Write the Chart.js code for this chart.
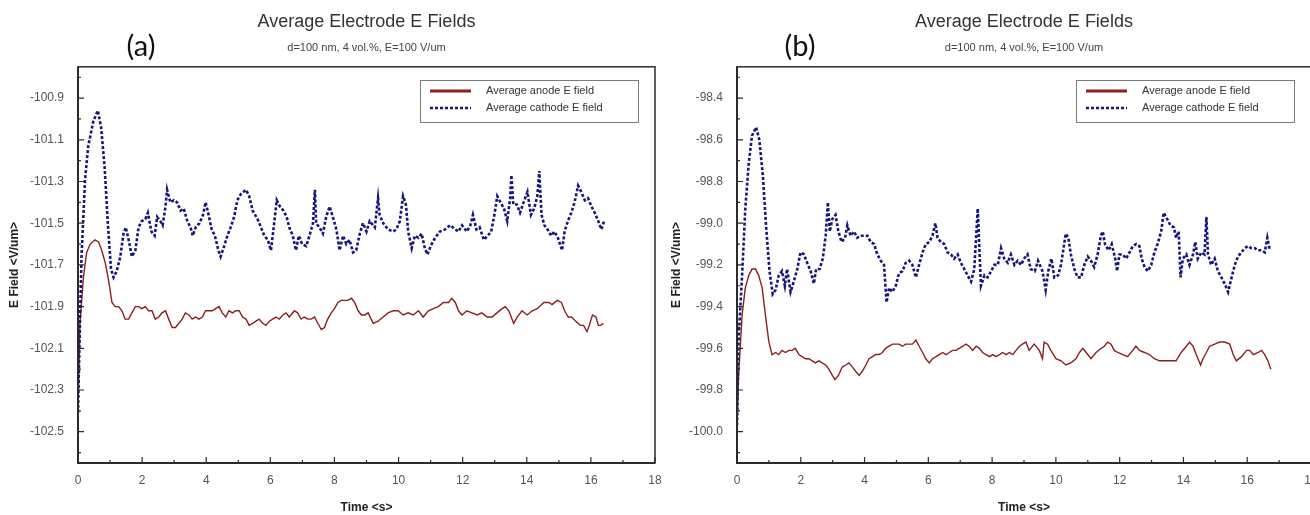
<!DOCTYPE html>
<html>
<head>
<meta charset="utf-8">
<title>Average Electrode E Fields</title>
<script src="https://cdn.jsdelivr.net/npm/chart.js@4/dist/chart.umd.min.js"></script>
<style>
body{margin:0;background:#fff;width:1310px;height:515px;overflow:hidden;position:relative}
canvas{position:absolute;top:0}
#chartA{left:0}
#chartB{left:660px}
.tag{position:absolute;top:27px;width:50px;text-align:center;font-family:Lato,"Open Sans",sans-serif;font-size:29px;color:#111}
</style>
</head>
<body>
<canvas id="chartA" width="672" height="515"></canvas>
<canvas id="chartB" width="655" height="515"></canvas>
<div class="tag" style="left:116px">(a)</div>
<div class="tag" style="left:775px">(b)</div>
<script>
// shared axis ticks
const xMajor = [0, 2, 4, 6, 8, 10, 12, 14, 16, 18];
const xMinor = [1, 3, 5, 7, 9, 11, 13, 15, 17];

// panel (a) axis ticks
const yMajorA = [-102.5, -102.3, -102.1, -101.9, -101.7, -101.5, -101.3, -101.1, -100.9];
const yMinorA = [-102.6, -102.4, -102.2, -102.0, -101.8, -101.6, -101.4, -101.2, -101.0, -100.8];

// panel (b) axis ticks
const yMajorB = [-100.0, -99.8, -99.6, -99.4, -99.2, -99.0, -98.8, -98.6, -98.4];
const yMinorB = [-100.1, -99.9, -99.7, -99.5, -99.3, -99.1, -98.9, -98.7, -98.5, -98.3];

// panel (a) anode
const tAnodeA = [0, 0.06, 0.17, 0.27, 0.38, 0.53, 0.64, 0.74, 0.85, 0.95, 1.06, 1.16, 1.27, 1.37, 1.47, 1.58, 1.68, 1.79, 1.89, 1.99, 2.10, 2.20, 2.31, 2.41, 2.52, 2.62, 2.73, 2.83, 2.94, 3.04, 3.15, 3.25, 3.35, 3.46, 3.56, 3.67, 3.77, 3.88, 3.98, 4.09, 4.19, 4.29, 4.40, 4.50, 4.61, 4.71, 4.82, 4.92, 5.03, 5.13, 5.24, 5.34, 5.45, 5.55, 5.65, 5.76, 5.86, 5.97, 6.07, 6.18, 6.28, 6.39, 6.49, 6.59, 6.75, 6.85, 6.96, 7.06, 7.17, 7.27, 7.38, 7.48, 7.59, 7.69, 7.79, 7.90, 8.00, 8.11, 8.21, 8.32, 8.42, 8.53, 8.63, 8.74, 8.84, 8.95, 9.05, 9.21, 9.36, 9.52, 9.67, 9.83, 9.99, 10.14, 10.30, 10.46, 10.62, 10.77, 10.93, 11.09, 11.24, 11.40, 11.56, 11.66, 11.77, 11.87, 11.98, 12.13, 12.29, 12.45, 12.60, 12.76, 12.92, 13.07, 13.23, 13.33, 13.44, 13.59, 13.70, 13.85, 14.01, 14.17, 14.33, 14.53, 14.69, 14.79, 14.95, 15.08, 15.18, 15.29, 15.39, 15.53, 15.67, 15.77, 15.88, 15.95, 16.05, 16.16, 16.23, 16.31, 16.39];
const eAnodeA = [-102.41, -101.98, -101.76, -101.64, -101.60, -101.58, -101.59, -101.63, -101.69, -101.77, -101.88, -101.90, -101.90, -101.92, -101.96, -101.96, -101.93, -101.90, -101.90, -101.91, -101.90, -101.92, -101.92, -101.96, -101.95, -101.93, -101.92, -101.96, -102.00, -102.00, -101.98, -101.96, -101.93, -101.94, -101.96, -101.95, -101.96, -101.95, -101.92, -101.92, -101.92, -101.91, -101.90, -101.93, -101.95, -101.92, -101.93, -101.92, -101.92, -101.95, -101.96, -101.99, -101.98, -101.97, -101.96, -101.98, -101.99, -101.97, -101.96, -101.95, -101.96, -101.94, -101.93, -101.95, -101.92, -101.93, -101.96, -101.95, -101.96, -101.96, -101.95, -101.98, -102.01, -102.00, -101.96, -101.93, -101.91, -101.88, -101.87, -101.87, -101.87, -101.86, -101.88, -101.92, -101.94, -101.94, -101.93, -101.98, -101.97, -101.95, -101.93, -101.92, -101.92, -101.94, -101.93, -101.94, -101.92, -101.95, -101.92, -101.91, -101.90, -101.88, -101.88, -101.86, -101.88, -101.92, -101.94, -101.92, -101.93, -101.94, -101.93, -101.95, -101.95, -101.93, -101.91, -101.90, -101.92, -101.98, -101.95, -101.92, -101.94, -101.92, -101.91, -101.88, -101.88, -101.89, -101.87, -101.88, -101.92, -101.95, -101.95, -101.97, -101.99, -101.99, -102.02, -101.99, -101.94, -101.95, -101.99, -101.99, -101.98];

// panel (a) cathode
const tCathodeA = [0, 0.05, 0.11, 0.22, 0.32, 0.48, 0.62, 0.72, 0.83, 0.93, 1.03, 1.11, 1.21, 1.32, 1.42, 1.49, 1.58, 1.68, 1.79, 1.89, 1.99, 2.10, 2.18, 2.29, 2.39, 2.47, 2.57, 2.64, 2.73, 2.78, 2.88, 2.99, 3.09, 3.20, 3.30, 3.41, 3.51, 3.58, 3.67, 3.79, 3.90, 3.98, 4.06, 4.17, 4.27, 4.38, 4.45, 4.56, 4.66, 4.76, 4.87, 4.97, 5.08, 5.24, 5.34, 5.45, 5.60, 5.71, 5.81, 5.92, 6.02, 6.12, 6.20, 6.30, 6.41, 6.51, 6.59, 6.70, 6.80, 6.89, 6.99, 7.12, 7.22, 7.33, 7.39, 7.43, 7.53, 7.64, 7.74, 7.85, 7.95, 8.06, 8.16, 8.27, 8.37, 8.47, 8.58, 8.68, 8.79, 8.89, 9.00, 9.10, 9.26, 9.36, 9.41, 9.52, 9.67, 9.83, 9.93, 10.04, 10.14, 10.23, 10.30, 10.41, 10.51, 10.62, 10.72, 10.82, 10.90, 11.00, 11.14, 11.29, 11.45, 11.61, 11.77, 11.87, 11.98, 12.13, 12.24, 12.32, 12.43, 12.53, 12.66, 12.78, 12.89, 12.99, 13.08, 13.18, 13.29, 13.39, 13.48, 13.52, 13.58, 13.69, 13.79, 13.90, 14.02, 14.13, 14.23, 14.33, 14.39, 14.46, 14.55, 14.65, 14.76, 14.86, 14.97, 15.10, 15.18, 15.28, 15.39, 15.49, 15.60, 15.70, 15.81, 15.91, 16.02, 16.12, 16.23, 16.33, 16.41];
const eCathodeA = [-102.41, -102.05, -101.66, -101.29, -101.13, -101.01, -100.96, -101.04, -101.23, -101.50, -101.72, -101.76, -101.73, -101.66, -101.55, -101.52, -101.58, -101.66, -101.63, -101.52, -101.49, -101.48, -101.45, -101.54, -101.56, -101.47, -101.49, -101.51, -101.42, -101.34, -101.40, -101.39, -101.40, -101.44, -101.43, -101.49, -101.52, -101.56, -101.52, -101.50, -101.46, -101.40, -101.45, -101.53, -101.56, -101.63, -101.66, -101.61, -101.56, -101.52, -101.47, -101.39, -101.36, -101.34, -101.37, -101.44, -101.48, -101.52, -101.56, -101.58, -101.63, -101.50, -101.39, -101.42, -101.44, -101.47, -101.52, -101.56, -101.63, -101.56, -101.60, -101.61, -101.56, -101.50, -101.34, -101.50, -101.52, -101.55, -101.47, -101.42, -101.47, -101.53, -101.63, -101.56, -101.60, -101.58, -101.64, -101.63, -101.55, -101.50, -101.54, -101.49, -101.52, -101.38, -101.46, -101.50, -101.53, -101.54, -101.53, -101.49, -101.37, -101.41, -101.54, -101.62, -101.56, -101.57, -101.55, -101.62, -101.65, -101.61, -101.57, -101.54, -101.53, -101.51, -101.53, -101.54, -101.51, -101.54, -101.51, -101.46, -101.53, -101.52, -101.58, -101.56, -101.54, -101.46, -101.37, -101.40, -101.43, -101.49, -101.38, -101.27, -101.41, -101.41, -101.45, -101.40, -101.35, -101.46, -101.43, -101.37, -101.25, -101.46, -101.51, -101.53, -101.56, -101.54, -101.57, -101.63, -101.54, -101.49, -101.45, -101.40, -101.32, -101.35, -101.39, -101.38, -101.42, -101.45, -101.49, -101.53, -101.49];

// panel (b) anode
const tAnodeB = [0, 0.05, 0.16, 0.26, 0.37, 0.47, 0.58, 0.68, 0.79, 0.89, 1.00, 1.10, 1.21, 1.31, 1.41, 1.52, 1.63, 1.73, 1.83, 1.94, 2.04, 2.15, 2.25, 2.36, 2.46, 2.57, 2.67, 2.78, 2.88, 2.99, 3.07, 3.18, 3.30, 3.41, 3.51, 3.62, 3.72, 3.83, 3.93, 4.04, 4.14, 4.25, 4.35, 4.46, 4.56, 4.66, 4.77, 4.88, 4.98, 5.08, 5.19, 5.29, 5.40, 5.50, 5.61, 5.71, 5.82, 5.92, 6.03, 6.13, 6.24, 6.34, 6.45, 6.55, 6.66, 6.76, 6.87, 6.97, 7.08, 7.18, 7.28, 7.39, 7.50, 7.60, 7.70, 7.81, 7.92, 8.02, 8.12, 8.23, 8.33, 8.44, 8.54, 8.65, 8.75, 8.86, 8.95, 9.06, 9.16, 9.32, 9.48, 9.58, 9.63, 9.74, 9.84, 10.00, 10.16, 10.31, 10.47, 10.63, 10.74, 10.84, 10.95, 11.10, 11.26, 11.42, 11.52, 11.62, 11.73, 11.83, 11.94, 12.10, 12.25, 12.41, 12.51, 12.62, 12.78, 12.93, 13.09, 13.25, 13.41, 13.61, 13.77, 13.93, 14.09, 14.19, 14.30, 14.40, 14.54, 14.61, 14.72, 14.82, 14.98, 15.14, 15.29, 15.45, 15.56, 15.66, 15.82, 15.98, 16.08, 16.19, 16.34, 16.45, 16.55, 16.65, 16.74];
const eAnodeB = [-99.97, -99.73, -99.44, -99.31, -99.25, -99.22, -99.22, -99.25, -99.31, -99.44, -99.57, -99.63, -99.62, -99.63, -99.61, -99.62, -99.61, -99.61, -99.60, -99.63, -99.64, -99.65, -99.65, -99.66, -99.67, -99.66, -99.67, -99.68, -99.70, -99.73, -99.75, -99.73, -99.69, -99.68, -99.67, -99.69, -99.71, -99.73, -99.71, -99.68, -99.65, -99.64, -99.63, -99.63, -99.62, -99.60, -99.59, -99.58, -99.58, -99.58, -99.59, -99.58, -99.58, -99.58, -99.56, -99.59, -99.62, -99.65, -99.67, -99.65, -99.64, -99.63, -99.62, -99.63, -99.62, -99.61, -99.61, -99.60, -99.59, -99.58, -99.59, -99.61, -99.59, -99.60, -99.62, -99.63, -99.64, -99.63, -99.64, -99.63, -99.62, -99.63, -99.62, -99.63, -99.61, -99.59, -99.58, -99.57, -99.61, -99.58, -99.61, -99.65, -99.57, -99.58, -99.61, -99.65, -99.66, -99.68, -99.67, -99.65, -99.62, -99.60, -99.62, -99.65, -99.62, -99.60, -99.59, -99.57, -99.58, -99.61, -99.62, -99.63, -99.64, -99.61, -99.59, -99.61, -99.62, -99.63, -99.65, -99.66, -99.66, -99.66, -99.66, -99.62, -99.59, -99.57, -99.59, -99.63, -99.68, -99.65, -99.62, -99.59, -99.58, -99.57, -99.57, -99.58, -99.63, -99.66, -99.64, -99.61, -99.61, -99.63, -99.62, -99.61, -99.63, -99.66, -99.70];

// panel (b) cathode
const tCathodeB = [0, 0.05, 0.16, 0.26, 0.37, 0.47, 0.60, 0.70, 0.81, 0.91, 1.02, 1.12, 1.21, 1.31, 1.41, 1.50, 1.57, 1.68, 1.78, 1.89, 1.99, 2.10, 2.20, 2.31, 2.41, 2.48, 2.59, 2.69, 2.78, 2.85, 2.91, 2.99, 3.09, 3.18, 3.28, 3.39, 3.46, 3.56, 3.67, 3.77, 3.88, 3.98, 4.09, 4.19, 4.30, 4.40, 4.51, 4.61, 4.69, 4.77, 4.87, 4.98, 5.08, 5.19, 5.29, 5.40, 5.50, 5.61, 5.71, 5.82, 5.92, 6.03, 6.13, 6.22, 6.29, 6.39, 6.50, 6.60, 6.71, 6.81, 6.92, 7.02, 7.13, 7.23, 7.34, 7.44, 7.55, 7.60, 7.65, 7.76, 7.86, 7.97, 8.07, 8.18, 8.28, 8.38, 8.49, 8.59, 8.70, 8.80, 8.91, 9.00, 9.11, 9.21, 9.34, 9.44, 9.58, 9.68, 9.76, 9.86, 9.95, 10.07, 10.16, 10.26, 10.31, 10.39, 10.47, 10.58, 10.68, 10.79, 10.89, 11.00, 11.10, 11.20, 11.31, 11.41, 11.47, 11.54, 11.65, 11.75, 11.86, 11.92, 11.99, 12.10, 12.20, 12.31, 12.41, 12.52, 12.62, 12.69, 12.78, 12.88, 12.99, 13.09, 13.19, 13.30, 13.38, 13.49, 13.59, 13.70, 13.77, 13.85, 13.91, 13.98, 14.09, 14.19, 14.30, 14.37, 14.45, 14.56, 14.66, 14.72, 14.77, 14.87, 14.98, 15.08, 15.19, 15.29, 15.40, 15.51, 15.61, 15.71, 15.82, 15.92, 16.03, 16.13, 16.24, 16.34, 16.45, 16.55, 16.63, 16.71];
const eCathodeB = [-99.97, -99.56, -99.25, -98.93, -98.71, -98.58, -98.54, -98.60, -98.77, -99.01, -99.23, -99.34, -99.32, -99.25, -99.23, -99.30, -99.22, -99.33, -99.28, -99.22, -99.14, -99.15, -99.19, -99.23, -99.29, -99.22, -99.22, -99.17, -99.06, -98.90, -99.04, -98.98, -98.96, -99.04, -99.09, -99.07, -99.01, -99.06, -99.04, -99.07, -99.06, -99.06, -99.06, -99.09, -99.10, -99.15, -99.18, -99.20, -99.38, -99.31, -99.33, -99.30, -99.24, -99.23, -99.19, -99.18, -99.20, -99.26, -99.20, -99.14, -99.10, -99.09, -99.06, -99.00, -99.07, -99.09, -99.10, -99.14, -99.15, -99.17, -99.15, -99.19, -99.22, -99.25, -99.28, -99.22, -98.93, -99.12, -99.30, -99.25, -99.26, -99.23, -99.20, -99.20, -99.12, -99.17, -99.19, -99.15, -99.20, -99.18, -99.20, -99.17, -99.15, -99.22, -99.23, -99.18, -99.23, -99.32, -99.23, -99.17, -99.26, -99.25, -99.20, -99.10, -99.05, -99.07, -99.15, -99.22, -99.26, -99.26, -99.20, -99.16, -99.18, -99.21, -99.15, -99.06, -99.04, -99.10, -99.13, -99.10, -99.17, -99.23, -99.15, -99.15, -99.17, -99.14, -99.11, -99.10, -99.11, -99.17, -99.21, -99.23, -99.20, -99.14, -99.10, -99.04, -98.95, -98.98, -99.01, -99.02, -99.07, -99.04, -99.26, -99.17, -99.15, -99.20, -99.15, -99.09, -99.17, -99.14, -99.15, -98.97, -99.15, -99.20, -99.17, -99.23, -99.26, -99.29, -99.33, -99.26, -99.20, -99.16, -99.14, -99.12, -99.11, -99.12, -99.12, -99.13, -99.13, -99.14, -99.07, -99.13];

const FONT = '"Liberation Sans", Arial, sans-serif';
const pairs = (ts, es) => ts.map((t, i) => ({x: t, y: es[i]}));

// frame round the plot, inward tick marks
const frameTicks = {
  id: 'frameTicks',
  afterDatasetsDraw(chart, args, opts) {
    const {ctx, chartArea: a, scales: {x, y}} = chart;
    ctx.save();
    ctx.strokeStyle = '#2b2b2b';
    ctx.lineWidth = 1.5;
    ctx.strokeRect(a.left, a.top, a.right - a.left, a.bottom - a.top);
    ctx.lineWidth = 2;
    ctx.beginPath();
    ctx.moveTo(a.left, a.top);
    ctx.lineTo(a.left, a.bottom);
    ctx.lineTo(a.right, a.bottom);
    ctx.stroke();
    ctx.lineWidth = 1.2;
    ctx.beginPath();
    xMajor.forEach(v => { const p = x.getPixelForValue(v); ctx.moveTo(p, a.bottom); ctx.lineTo(p, a.bottom - 6); });
    xMinor.forEach(v => { const p = x.getPixelForValue(v); ctx.moveTo(p, a.bottom); ctx.lineTo(p, a.bottom - 3); });
    opts.major.forEach(v => { const p = y.getPixelForValue(v); ctx.moveTo(a.left, p); ctx.lineTo(a.left + 6, p); });
    opts.minor.forEach(v => { const p = y.getPixelForValue(v); ctx.moveTo(a.left, p); ctx.lineTo(a.left + 3, p); });
    ctx.stroke();
    ctx.restore();
  }
};

// boxed legend in the upper right of the plot
const boxLegend = {
  id: 'boxLegend',
  afterDraw(chart) {
    const {ctx, chartArea: a} = chart;
    const w = 218, h = 42;
    const x0 = Math.round(a.right - 17 - w), y0 = Math.round(a.top + 13);
    ctx.save();
    ctx.fillStyle = '#fff';
    ctx.fillRect(x0, y0, w, h);
    ctx.strokeStyle = '#7a7a7a';
    ctx.lineWidth = 1;
    ctx.strokeRect(x0 + 0.5, y0 + 0.5, w, h);
    chart.data.datasets.forEach((ds, i) => {
      const yy = y0 + 11 + i * 17;
      ctx.beginPath();
      ctx.setLineDash(ds.borderDash || []);
      ctx.strokeStyle = ds.borderColor;
      ctx.lineWidth = ds.borderDash ? ds.borderWidth : 3;
      ctx.moveTo(x0 + 10, yy);
      ctx.lineTo(x0 + 51, yy);
      ctx.stroke();
      ctx.setLineDash([]);
      ctx.fillStyle = '#333';
      ctx.font = '11px ' + FONT;
      ctx.textBaseline = 'middle';
      ctx.fillText(ds.label, x0 + 66, yy);
    });
    ctx.restore();
  }
};

function makeChart(id, anode, cathode, yMin, yMax, yMajor, yMinor, yWidth, padRight, yTitlePad) {
  return new Chart(document.getElementById(id), {
    type: 'line',
    data: {
      datasets: [{
        label: 'Average anode E field',
        data: anode,
        borderColor: '#8b1f1f',
        borderWidth: 1.4,
        order: 1
      }, {
        label: 'Average cathode E field',
        data: cathode,
        borderColor: '#16167c',
        borderWidth: 2.6,
        borderDash: [3, 2],
        order: 0
      }]
    },
    options: {
      responsive: false,
      devicePixelRatio: 1,
      animation: false,
      events: [],
      layout: {padding: {top: 0, right: padRight, bottom: 0, left: 0}},
      elements: {point: {radius: 0}, line: {tension: 0, fill: false}},
      scales: {
        x: {
          type: 'linear',
          min: 0,
          max: 18,
          afterBuildTicks: s => { s.ticks = xMajor.map(v => ({value: v})); },
          afterFit: s => { s.height = 52; s.paddingLeft = 0; s.paddingRight = 0; },
          grid: {display: false, drawTicks: false},
          border: {display: false},
          ticks: {color: '#555', font: {family: FONT, size: 12}, padding: 10, maxRotation: 0, autoSkip: false},
          title: {display: true, text: 'Time <s>', color: '#222', font: {family: FONT, size: 12, weight: 'bold'}, padding: {top: 0, bottom: 0}}
        },
        y: {
          type: 'linear',
          min: yMin,
          max: yMax,
          afterBuildTicks: s => { s.ticks = yMajor.map(v => ({value: v})); },
          afterFit: s => { s.width = yWidth; s.paddingTop = 0; s.paddingBottom = 0; },
          grid: {display: false, drawTicks: false},
          border: {display: false},
          ticks: {color: '#555', font: {family: FONT, size: 12}, padding: 14, autoSkip: false, callback: v => v.toFixed(1)},
          title: {display: true, text: 'E Field <V/um>', color: '#222', font: {family: FONT, size: 12, weight: 'bold'}, padding: {top: yTitlePad, bottom: 0}}
        }
      },
      plugins: {
        legend: {display: false},
        tooltip: {enabled: false},
        title: {
          display: true,
          fullSize: false,
          text: 'Average Electrode E Fields',
          color: '#333',
          font: {family: FONT, size: 18, weight: 'normal'},
          padding: {top: 11, bottom: 9}
        },
        subtitle: {
          display: true,
          fullSize: false,
          text: 'd=100 nm, 4 vol.%, E=100 V/um',
          color: '#444',
          font: {family: FONT, size: 11},
          padding: {top: 0, bottom: 12}
        },
        frameTicks: {major: yMajor, minor: yMinor}
      }
    },
    plugins: [frameTicks, boxLegend]
  });
}

makeChart('chartA', pairs(tAnodeA, eAnodeA), pairs(tCathodeA, eCathodeA),
  -102.65, -100.75, yMajorA, yMinorA, 78, 17, 7);
makeChart('chartB', pairs(tAnodeB, eAnodeB), pairs(tCathodeB, eCathodeB),
  -100.15, -98.25, yMajorB, yMinorB, 77, 4, 9);
</script>
</body>
</html>
